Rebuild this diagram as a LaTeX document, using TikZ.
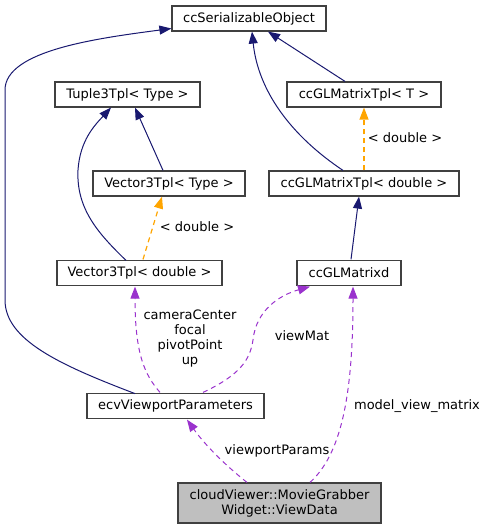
\documentclass[tikz,border=0pt]{standalone}
\usepackage{fontspec}
\setmainfont{DejaVu Sans}
\usetikzlibrary{arrows.meta}
\definecolor{navy}{HTML}{191970}
\definecolor{orng}{HTML}{FFA500}
\definecolor{purp}{HTML}{9A32CD}
\definecolor{bord}{HTML}{404040}
\definecolor{fillg}{HTML}{BFBFBF}
\begin{document}
\begin{tikzpicture}[x=1pt,y=-1pt,
  every node/.style={font=\fontsize{13}{15}\selectfont},
  cls/.style={draw=bord,line width=1.2pt,fill=white,inner sep=0pt,minimum height=25pt,anchor=center},
  inh/.style={draw=navy,line width=1pt,-{Triangle[length=12pt,width=9pt]}},
  tpl/.style={draw=orng,line width=1.2pt,dash pattern=on 5pt off 4pt,-{Triangle[length=12pt,width=9pt]}},
  use/.style={draw=purp,line width=1pt,dash pattern=on 5pt off 4pt,-{Triangle[length=12pt,width=9pt]}},
  lbl/.style={align=center,inner sep=0pt}]
\useasboundingbox (0,0) rectangle (488,529);
\node[cls,minimum width=154pt] (ser) at (249,18.5) {ccSerializableObject};
\node[cls,minimum width=145pt] (tup) at (127.5,94.5) {Tuple3Tpl< Type >};
\node[cls,minimum width=154pt] (glt) at (364,94.5) {ccGLMatrixTpl< T >};
\node[cls,minimum width=152pt] (vt) at (169,183.5) {Vector3Tpl< Type >};
\node[cls,minimum width=190pt] (gld) at (364,183.5) {ccGLMatrixTpl< double >};
\node[cls,minimum width=165pt] (vd) at (139.5,273) {Vector3Tpl< double >};
\node[cls,minimum width=104pt] (glm) at (349,273) {ccGLMatrixd};
\node[cls,minimum width=177pt] (ecv) at (175.5,406) {ecvViewportParameters};
\node[cls,minimum width=203pt,minimum height=40pt,fill=fillg,align=center] (vw) at (279.5,503) {cloudViewer::MovieGrabber\\Widget::ViewData};

\draw[inh] (135,393.6) .. controls (60,365) and (5,340) .. (5,300) -- (5,90) .. controls (5,50) and (100,38) .. (171.4,28.5);
\draw[inh] (126,260.4) .. controls (100,235) and (76,210) .. (78,170) .. controls (80,140) and (95,125) .. (111,107.6);
\draw[inh] (163,170.4) -- (135,107.6);
\draw[inh] (343,170.4) .. controls (290,135) and (258,90) .. (252,31.6);
\draw[inh] (345,81.4) -- (268,31.6);
\draw[inh] (351,259.4) -- (359,196.6);
\draw[tpl] (364,170.4) -- (364,107.6);
\node[lbl] (l1) at (405,138) {< double >};
\draw[tpl] (143,259.4) -- (162,196.6);
\node[lbl] (l2) at (197,227) {< double >};
\draw[use] (160,392.4) .. controls (145,375) and (135,355) .. (135,286.6);
\node[lbl] (l3) at (190,338.5) {cameraCenter\\focal\\pivotPoint\\up};
\draw[use] (203,392.4) .. controls (240,375) and (250,360) .. (253,340) .. controls (256,310) and (280,295) .. (310,286.6);
\node[lbl] (l4) at (302,336) {viewMat};
\draw[use] (310,482.4) .. controls (340,455) and (353,400) .. (353,286.6);
\node[lbl] (l5) at (417,406) {model\_view\_matrix};
\draw[use] (247,482.4) .. controls (225,465) and (205,445) .. (187,419.6);
\node[lbl] (l6) at (277,451) {viewportParams};
\end{tikzpicture}
\end{document}
